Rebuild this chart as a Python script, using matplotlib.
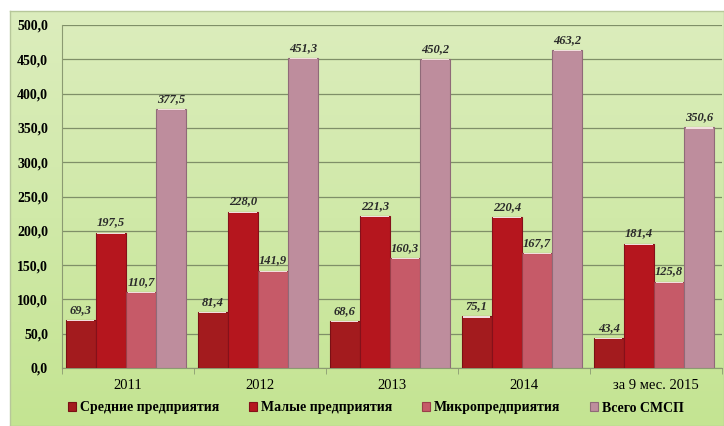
import matplotlib
matplotlib.use("Agg")
import matplotlib.pyplot as plt
import numpy as np
from matplotlib.colors import LinearSegmentedColormap

categories = ["2011", "2012", "2013", "2014", "за 9 мес. 2015"]
series_names = ["Средние предприятия", "Малые предприятия", "Микропредприятия", "Всего СМСП"]
srednie = [69.3, 81.4, 68.6, 75.1, 43.4]
malye = [197.5, 228.0, 221.3, 220.4, 181.4]
mikro = [110.7, 141.9, 160.3, 167.7, 125.8]
vsego = [377.5, 451.3, 450.2, 463.2, 350.6]
yticks = [0, 50, 100, 150, 200, 250, 300, 350, 400, 450, 500]

colors = ["#a31b1e", "#b5161e", "#c65a68", "#be8d9d"]
edge_colors = ["#7a1014", "#85101a", "#9a3f4a", "#8f6a78"]

plt.rcParams['font.family'] = ['Liberation Serif', 'DejaVu Serif']

fig = plt.figure(figsize=(7.24, 4.26), dpi=100)
fig.patch.set_facecolor("white")

# green gradient background panel
bg = fig.add_axes([10/724, 0, 714/724, 415/426], zorder=0)
grad = np.linspace(0, 1, 256).reshape(-1, 1)
cmap = LinearSegmentedColormap.from_list("g", ["#dcedbd", "#d0e9a8", "#c4e492"])
bg.imshow(grad, aspect="auto", cmap=cmap, extent=[0, 1, 0, 1], origin="upper")
bg.set_xticks([]); bg.set_yticks([])
for s in bg.spines.values():
    s.set_color("#b7c79a"); s.set_linewidth(1)

ax = fig.add_axes([62/724, 1 - 368/426, 660/724, 343/426], zorder=1)
ax.set_facecolor("none")

x = np.arange(len(categories))
w = 0.228
all_series = [srednie, malye, mikro, vsego]
for i, vals in enumerate(all_series):
    pos = x + (i - 1.5) * w - 0.015
    ax.bar(pos, vals, width=w, color=colors[i], edgecolor=edge_colors[i],
           linewidth=0.8, zorder=3, label=series_names[i])
    # light top edge
    ax.bar(pos, [1.5] * len(vals), bottom=np.array(vals) - 1.5, width=w * 0.9,
           color="#f2dede", linewidth=0, zorder=4)
    for p, v in zip(pos, vals):
        ax.text(p, v + 6, f"{v:.1f}".replace(".", ","), ha="center", va="bottom",
                fontsize=9, fontweight="bold", fontstyle="italic", color="#2a2a2a", zorder=5)

ax.set_xlim(-0.5, 4.5)
ax.set_ylim(0, 500)
ax.set_yticks(yticks)
ax.set_yticklabels([f"{t:.1f}".replace(".", ",") for t in yticks], fontsize=10, fontweight="bold")
ax.yaxis.grid(True, color="#7f8f68", linewidth=0.9, zorder=1)
ax.tick_params(axis="y", length=0, pad=10)
ax.set_xticks(x)
ax.set_xticklabels(categories, fontsize=10.5)
ax.set_xticks(np.arange(-0.5, 5, 1), minor=True)
ax.tick_params(axis="x", which="major", length=0, pad=8)
ax.tick_params(axis="x", which="minor", length=4, color="#8b9a72")
for s in ["top", "right"]:
    ax.spines[s].set_visible(False)
ax.spines["left"].set_color("#8b9a72")
ax.spines["bottom"].set_color("#8b9a72")

fig.legend(loc="center", bbox_to_anchor=(376/724, 1 - 408/426), ncol=4,
           frameon=False, prop={"weight": "bold", "size": 10},
           handlelength=0.6, handleheight=0.6, handletextpad=0.3, columnspacing=2.1)

fig.savefig("out.png", dpi=100, facecolor="white")
